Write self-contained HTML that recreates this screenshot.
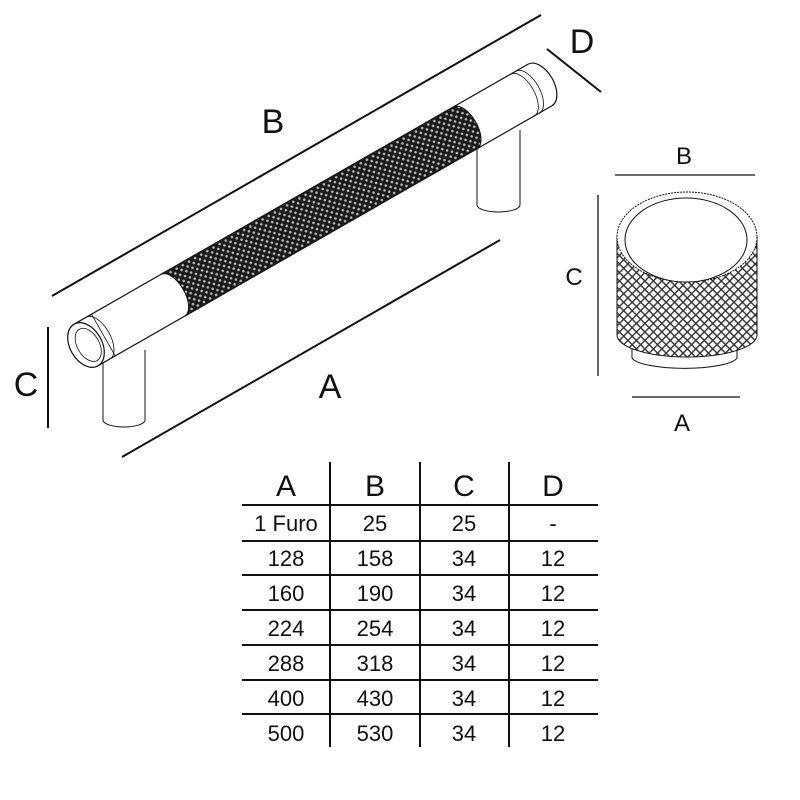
<!DOCTYPE html>
<html><head><style>
html,body{margin:0;padding:0;background:#fff;}
svg{display:block;}
text{font-family:"Liberation Sans",sans-serif;fill:#111;}
</style></head><body>
<svg width="800" height="800" viewBox="0 0 800 800" xmlns="http://www.w3.org/2000/svg">
<defs>
<pattern id="kn" width="5" height="5" patternUnits="userSpaceOnUse" patternTransform="rotate(45)">
<rect width="5" height="5" fill="#1a1a1a"/>
<circle cx="2.5" cy="2.5" r="1.3" fill="#bbb"/>
</pattern>
<pattern id="kn2" width="6" height="6" patternUnits="userSpaceOnUse" patternTransform="rotate(45)">
<rect width="6" height="6" fill="#fff"/>
<rect x="0" y="0" width="6" height="1.4" fill="#333"/>
<rect x="0" y="0" width="1.4" height="6" fill="#333"/>
</pattern>
</defs>
<g stroke="#111" fill="none">
<line x1="52" y1="296" x2="541" y2="15" stroke-width="2"/>
<line x1="122" y1="457" x2="500" y2="240" stroke-width="2"/>
<line x1="48" y1="327" x2="48" y2="428" stroke-width="2"/>
<line x1="547" y1="49" x2="601" y2="92" stroke-width="2"/>
<path d="M103 355 V420 A21 7 0 0 0 145 420 V350" fill="#fff" stroke-width="1"/>
<path d="M477 140 V205 A21.5 7 0 0 0 520 205 V130" fill="#fff" stroke-width="1"/>
<g transform="translate(86,345) rotate(-29.8)">
<path d="M0 -24 H523 A14 24 0 0 1 523 24 H0 Z" fill="#fff" stroke-width="1.2"/>
<path d="M100 -24 H437 A12 24 0 0 1 437 24 H100 A12 24 0 0 0 100 -24 Z" fill="url(#kn)" stroke-width="1"/>
<line x1="20" y1="-24" x2="20" y2="24" stroke-width="0.8"/>
<path d="M14 -24 A12 24 0 0 1 14 24" stroke-width="0.8"/>
<path d="M503 -24 A12 24 0 0 1 503 24" stroke-width="0.8"/>
<path d="M509 -24 A12 24 0 0 1 509 24" stroke-width="0.8"/>
<ellipse cx="0" cy="0" rx="16" ry="24" fill="#fff" stroke-width="1.2"/>
<ellipse cx="2" cy="1" rx="11" ry="18" stroke-width="0.8"/>
</g>
<line x1="615" y1="175" x2="755" y2="175" stroke-width="1.3"/>
<line x1="598" y1="195" x2="598" y2="376" stroke-width="1.3"/>
<line x1="632" y1="397" x2="740" y2="397" stroke-width="1.3"/>
<path d="M632 340 V358 A53 12 0 0 0 737 358 V340" fill="#fff" stroke-width="1"/>
<path d="M617 237 V335 A70 22 0 0 0 757 335 V237 Z" fill="url(#kn2)" stroke-width="1"/>
<ellipse cx="687" cy="237" rx="70" ry="45" fill="#fff" stroke-width="1" stroke-dasharray="2 1"/>
<ellipse cx="686" cy="240" rx="61" ry="42" fill="#fff" stroke-width="1"/>
</g>
<text x="273" y="133" font-size="34" text-anchor="middle">B</text>
<text x="330" y="398" font-size="34" text-anchor="middle">A</text>
<text x="26" y="396" font-size="34" text-anchor="middle">C</text>
<text x="582" y="53" font-size="34" text-anchor="middle">D</text>
<text x="684" y="164" font-size="24" text-anchor="middle">B</text>
<text x="574" y="285" font-size="24" text-anchor="middle">C</text>
<text x="682" y="431" font-size="24" text-anchor="middle">A</text>
<g stroke="#111" stroke-width="2">
<line x1="330" y1="462" x2="330" y2="747"/>
<line x1="420" y1="462" x2="420" y2="747"/>
<line x1="509" y1="462" x2="509" y2="747"/>
<line x1="242" y1="505" x2="598" y2="505"/>
<line x1="242" y1="541" x2="598" y2="541"/>
<line x1="242" y1="575" x2="598" y2="575"/>
<line x1="242" y1="610" x2="598" y2="610"/>
<line x1="242" y1="645" x2="598" y2="645"/>
<line x1="242" y1="680" x2="598" y2="680"/>
<line x1="242" y1="714" x2="598" y2="714"/>
</g>
<g font-size="30" text-anchor="middle">
<text x="286" y="496">A</text><text x="375" y="496">B</text><text x="464" y="496">C</text><text x="553" y="496">D</text>
</g>
<g font-size="22" text-anchor="middle">
<text x="286" y="531">1 Furo</text><text x="375" y="531">25</text><text x="464" y="531">25</text><text x="553" y="531">-</text>
<text x="286" y="566">128</text><text x="375" y="566">158</text><text x="464" y="566">34</text><text x="553" y="566">12</text>
<text x="286" y="601">160</text><text x="375" y="601">190</text><text x="464" y="601">34</text><text x="553" y="601">12</text>
<text x="286" y="636">224</text><text x="375" y="636">254</text><text x="464" y="636">34</text><text x="553" y="636">12</text>
<text x="286" y="671">288</text><text x="375" y="671">318</text><text x="464" y="671">34</text><text x="553" y="671">12</text>
<text x="286" y="706">400</text><text x="375" y="706">430</text><text x="464" y="706">34</text><text x="553" y="706">12</text>
<text x="286" y="741">500</text><text x="375" y="741">530</text><text x="464" y="741">34</text><text x="553" y="741">12</text>
</g>
</svg>
</body></html>
